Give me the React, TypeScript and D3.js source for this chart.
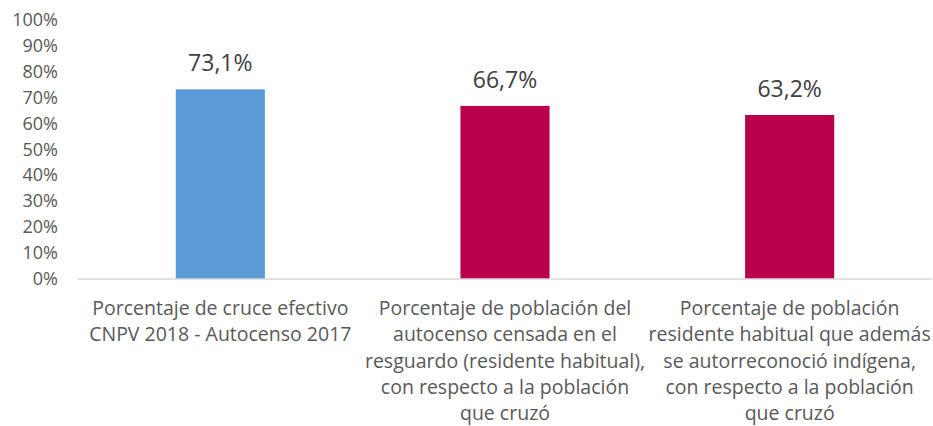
import React, { useEffect, useRef } from 'react';
import * as d3 from 'd3';

// categories, one entry per bar, already split into the lines shown under the axis
const categories: string[][] = [
  ['Porcentaje de cruce efectivo', 'CNPV 2018 - Autocenso 2017'],
  [
    'Porcentaje de población del',
    'autocenso censada en el',
    'resguardo (residente habitual),',
    'con respecto a la población',
    'que cruzó',
  ],
  [
    'Porcentaje de población',
    'residente habitual que además',
    'se autorreconoció indígena,',
    'con respecto a la población',
    'que cruzó',
  ],
];
const values: number[] = [0.731, 0.667, 0.632];
const valueLabels: string[] = ['73,1%', '66,7%', '63,2%'];
const barColors: string[] = ['#5B9BD5', '#B8004B', '#B8004B'];
const yTicks: number[] = [0, 0.1, 0.2, 0.3, 0.4, 0.5, 0.6, 0.7, 0.8, 0.9, 1];

const FONT = '"Open Sans", "Liberation Sans", sans-serif';

const App = () => {
  const svgRef = useRef<SVGSVGElement>(null);

  useEffect(() => {
    const svg = d3.select(svgRef.current);
    svg.selectAll('*').remove();

    const width = 933;
    const height = 426;
    const margin = { top: 19.5, right: 1, bottom: 147, left: 78 };
    const chartWidth = width - margin.left - margin.right;
    const chartHeight = height - margin.top - margin.bottom;

    svg.attr('width', width).attr('height', height);

    const chart = svg
      .append('g')
      .attr('transform', `translate(${margin.left},${margin.top})`);

    const ids = categories.map((_, i) => String(i));

    const xScale = d3.scaleBand()
      .domain(ids)
      .range([0, chartWidth])
      .paddingInner(0.687)
      .paddingOuter(0.687 / 2);

    const yScale = d3.scaleLinear()
      .domain([0, 1])
      .range([chartHeight, 0]);

    // y axis labels, no line, no ticks
    const yAxis = chart.append('g')
      .call(d3.axisLeft(yScale)
        .tickValues(yTicks)
        .tickFormat(d => `${Math.round(+d * 100)}%`)
        .tickSize(0)
        .tickPadding(20));
    yAxis.select('.domain').remove();
    yAxis.selectAll('text')
      .style('font-family', FONT)
      .style('font-size', '18px')
      .style('fill', '#595959');

    chart.selectAll('.bar')
      .data(values)
      .enter()
      .append('rect')
      .attr('class', 'bar')
      .attr('x', (_, i) => xScale(ids[i])!)
      .attr('width', xScale.bandwidth())
      .attr('y', d => yScale(d))
      .attr('height', d => chartHeight - yScale(d))
      .style('fill', (_, i) => barColors[i]);

    chart.selectAll('.value-label')
      .data(values)
      .enter()
      .append('text')
      .attr('class', 'value-label')
      .attr('x', (_, i) => xScale(ids[i])! + xScale.bandwidth() / 2)
      .attr('y', d => yScale(d) - 18)
      .attr('text-anchor', 'middle')
      .style('font-family', FONT)
      .style('font-size', '23px')
      .style('fill', '#404040')
      .text((_, i) => valueLabels[i]);

    // baseline
    chart.append('line')
      .attr('x1', 0)
      .attr('x2', chartWidth)
      .attr('y1', chartHeight)
      .attr('y2', chartHeight)
      .style('stroke', '#D9D9D9')
      .style('stroke-width', 1.5);

    // category labels
    const xLabels = chart.selectAll('.cat-label')
      .data(categories)
      .enter()
      .append('text')
      .attr('class', 'cat-label')
      .attr('text-anchor', 'middle')
      .style('font-family', FONT)
      .style('font-size', '19.5px')
      .style('fill', '#595959');

    xLabels.selectAll('tspan')
      .data((d, i) => d.map(line => ({ line, i })))
      .enter()
      .append('tspan')
      .attr('x', d => xScale(ids[d.i])! + xScale.bandwidth() / 2)
      .attr('y', (_, j) => chartHeight + 36 + j * 26.3)
      .text(d => d.line);
  }, []);

  return (
    <svg
      ref={svgRef}
      style={{ position: 'absolute', left: 0, top: 0, background: '#fff' }}
    />
  );
};

export default App;
